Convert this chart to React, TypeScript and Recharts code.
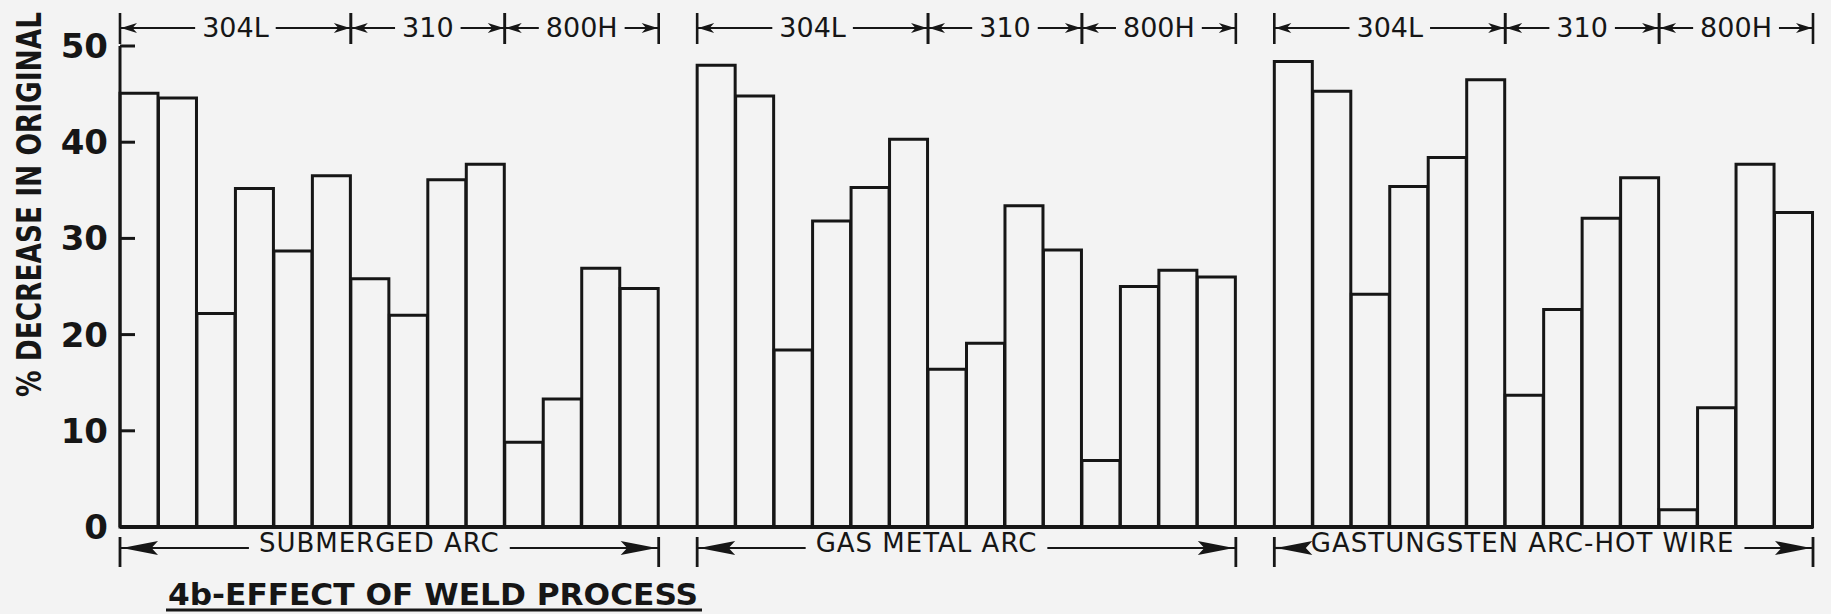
import { BarChart, Bar, XAxis, YAxis, ReferenceArea } from 'recharts'

// weld processes, left to right
const processNames = ['SUBMERGED ARC', 'GAS METAL ARC', 'GASTUNGSTEN ARC-HOT WIRE']
// filler alloys inside each process block, and how many bars each one has
const alloyNames = ['304L', '310', '800H']
const alloyBarCounts = [6, 4, 4]

// % decrease in original ductility
const submergedArc = [45.1, 44.6, 22.2, 35.2, 28.7, 36.5, 25.8, 22.0, 36.1, 37.7, 8.8, 13.3, 26.9, 24.8]
const gasMetalArc = [48.0, 44.8, 18.4, 31.8, 35.3, 40.3, 16.4, 19.1, 33.4, 28.8, 6.9, 25.0, 26.7, 26.0]
const gasTungstenHotWire = [48.4, 45.3, 24.2, 35.4, 38.4, 46.5, 13.7, 22.6, 32.1, 36.3, 1.8, 12.4, 37.7, 32.7]

const yTicks = [0, 10, 20, 30, 40, 50]
const yLabel = '% DECREASE IN ORIGINAL'
const title = '4b-EFFECT OF WELD PROCESS'

const W = 1831
const H = 614
const INK = '#161616'
const PAPER = '#f3f3f3'
const HEADER_FONT_SIZE = 27
const FOOTER_FONT_SIZE = 26
const FOOTER_SPACING = 1
// footer captions sit a little left of centre in the original
const footerShift = [-10, -40, -21]

const seriesByProcess = [submergedArc, gasMetalArc, gasTungstenHotWire]

const rows: { id: string; value: number | null }[] = []
seriesByProcess.forEach((vals, p) => {
    vals.forEach((v, i) => rows.push({ id: `p${p}-${i}`, value: v }))
    if (p < seriesByProcess.length - 1) rows.push({ id: `gap${p}`, value: null })
})

const alloyRanges: { p: number; label: string; x1: string; x2: string }[] = []
seriesByProcess.forEach((_, p) => {
    let start = 0
    alloyNames.forEach((name, a) => {
        const n = alloyBarCounts[a]
        alloyRanges.push({ p, label: name, x1: `p${p}-${start}`, x2: `p${p}-${start + n - 1}` })
        start += n
    })
})

let ctx: CanvasRenderingContext2D | null = null
function textWidth(s: string, font: string, spacing = 0) {
    if (!ctx) ctx = document.createElement('canvas').getContext('2d')
    if (!ctx) return s.length * 16
    ctx.font = font
    return ctx.measureText(s).width + spacing * s.length
}

// dir = 1: body to the right of the tip (points left)
function arrowPath(tipX: number, y: number, dir: number, len: number, half: number, notch: number) {
    return `M${tipX},${y} L${tipX + dir * len},${y - half} L${tipX + dir * len * notch},${y} L${tipX + dir * len},${y + half} Z`
}

function HeaderBracket(props: any) {
    const { x, y, width, label } = props
    const lineY = y - 18
    const left = x
    const right = x + width
    const cx = left + width / 2
    const tw = textWidth(label, `${HEADER_FONT_SIZE}px "DejaVu Sans"`)
    const gap = 7
    return (
        <g>
            <line x1={left} x2={left} y1={lineY - 15} y2={lineY + 16} stroke={INK} strokeWidth={2.6} />
            <line x1={right} x2={right} y1={lineY - 15} y2={lineY + 16} stroke={INK} strokeWidth={2.6} />
            <line x1={left} x2={cx - tw / 2 - gap} y1={lineY} y2={lineY} stroke={INK} strokeWidth={2} />
            <line x1={cx + tw / 2 + gap} x2={right} y1={lineY} y2={lineY} stroke={INK} strokeWidth={2} />
            <path d={arrowPath(left + 1, lineY, 1, 16, 5, 0.72)} fill={INK} />
            <path d={arrowPath(right - 1, lineY, -1, 16, 5, 0.72)} fill={INK} />
            <text
                x={cx}
                y={lineY + 9}
                textAnchor="middle"
                fontFamily="DejaVu Sans"
                fontSize={HEADER_FONT_SIZE}
                fill={INK}
            >
                {label}
            </text>
        </g>
    )
}

function FooterBracket(props: any) {
    const { x, y, width, height, label, shift } = props
    const lineY = y + height + 21
    const left = x
    const right = x + width
    const cx = left + width / 2 + shift
    const tw = textWidth(label, `${FOOTER_FONT_SIZE}px "DejaVu Sans"`, FOOTER_SPACING)
    const gap = 10
    return (
        <g>
            <line x1={left} x2={left} y1={lineY - 11} y2={lineY + 19} stroke={INK} strokeWidth={2.8} />
            <line x1={right} x2={right} y1={lineY - 11} y2={lineY + 19} stroke={INK} strokeWidth={2.8} />
            <line x1={left} x2={cx - tw / 2 - gap} y1={lineY} y2={lineY} stroke={INK} strokeWidth={2.2} />
            <line x1={cx + tw / 2 + gap} x2={right} y1={lineY} y2={lineY} stroke={INK} strokeWidth={2.2} />
            <path d={arrowPath(left + 2, lineY, 1, 36, 7, 0.82)} fill={INK} />
            <path d={arrowPath(right - 2, lineY, -1, 36, 7, 0.82)} fill={INK} />
            <text
                x={cx}
                y={lineY + 4}
                textAnchor="middle"
                fontFamily="DejaVu Sans"
                fontSize={FOOTER_FONT_SIZE}
                letterSpacing={FOOTER_SPACING}
                fill={INK}
            >
                {label}
            </text>
        </g>
    )
}

// tick mark drawn inward from the axis, label on the outside
const TICK_OFFSET = 12
function YTick(props: any) {
    const { x, y, payload } = props
    const axisX = x + TICK_OFFSET
    return (
        <g>
            <line x1={axisX} x2={axisX + 15} y1={y} y2={y} stroke={INK} strokeWidth={3} />
            <text
                x={x}
                y={y}
                dy={12}
                textAnchor="end"
                fontFamily="DejaVu Sans"
                fontWeight="bold"
                fontSize={34}
                fill={INK}
            >
                {payload.value}
            </text>
        </g>
    )
}

function YLabel(props: any) {
    const vb = props.viewBox || { x: 0, y: 46, width: 120, height: 481 }
    const cx = vb.x + 29
    const cy = vb.y + vb.height - 130
    return (
        <text
            x={cx}
            y={cy}
            transform={`rotate(-90 ${cx} ${cy})`}
            textAnchor="start"
            dominantBaseline="central"
            fontFamily="'Liberation Sans Narrow', 'DejaVu Sans Condensed', 'DejaVu Sans'"
            fontWeight="bold"
            fontSize={34}
            textLength={cy - 12}
            lengthAdjust="spacingAndGlyphs"
            fill={INK}
        >
            {yLabel}
        </text>
    )
}

function TitleLabel(props: any) {
    const vb = props.viewBox || { x: 120, y: 527, width: 1693, height: 87 }
    const tx = vb.x + 48
    const ty = vb.y + 78
    return (
        <g>
            <text
                x={tx}
                y={ty}
                fontFamily="DejaVu Sans"
                fontWeight="bold"
                fontSize={31}
                textLength={530}
                lengthAdjust="spacingAndGlyphs"
                fill={INK}
            >
                {title}
            </text>
            <line x1={tx - 2} x2={tx + 534} y1={ty + 5} y2={ty + 5} stroke={INK} strokeWidth={3} />
        </g>
    )
}

export default function App() {
    return (
        <div style={{ position: 'absolute', left: 0, top: 0, width: W, height: H, background: PAPER }}>
            <BarChart
                width={W}
                height={H}
                data={rows}
                margin={{ top: 46, right: 18, bottom: 0, left: 0 }}
                barCategoryGap={0}
                barGap={0}
            >
                <XAxis
                    dataKey="id"
                    height={87}
                    tick={false}
                    tickLine={false}
                    axisLine={{ stroke: INK, strokeWidth: 4 }}
                    label={{ content: (p: any) => <TitleLabel {...p} /> }}
                />
                <YAxis
                    width={120}
                    domain={[0, 50]}
                    ticks={yTicks}
                    interval={0}
                    tickSize={6}
                    tickMargin={6}
                    tickLine={false}
                    axisLine={{ stroke: INK, strokeWidth: 3 }}
                    tick={<YTick />}
                    label={{ content: (p: any) => <YLabel {...p} /> }}
                />
                <Bar
                    dataKey="value"
                    fill={PAPER}
                    stroke={INK}
                    strokeWidth={3}
                    isAnimationActive={false}
                />
                {alloyRanges.map((g) => (
                    <ReferenceArea
                        key={`${g.p}-${g.label}`}
                        x1={g.x1}
                        x2={g.x2}
                        ifOverflow="visible"
                        shape={(p: any) => <HeaderBracket {...p} label={g.label} />}
                    />
                ))}
                {processNames.map((name, p) => (
                    <ReferenceArea
                        key={name}
                        x1={`p${p}-0`}
                        x2={`p${p}-${seriesByProcess[p].length - 1}`}
                        ifOverflow="visible"
                        shape={(props: any) => <FooterBracket {...props} label={name} shift={footerShift[p]} />}
                    />
                ))}
            </BarChart>
        </div>
    )
}
